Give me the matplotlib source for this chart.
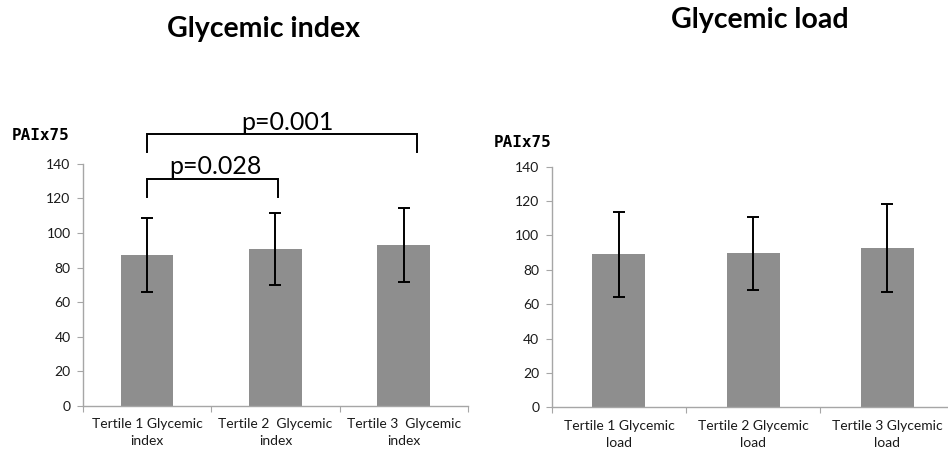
import matplotlib
matplotlib.use("Agg")
import matplotlib.pyplot as plt
import numpy as np

# ---- data ----
gi_labels = ["Tertile 1 Glycemic\nindex", "Tertile 2  Glycemic\nindex", "Tertile 3  Glycemic\nindex"]
gi_means = [87.5, 90.8, 93.0]
gi_upper = [108.6, 111.8, 114.5]
gi_lower = [66.1, 70.0, 71.7]

gl_labels = ["Tertile 1 Glycemic\nload", "Tertile 2 Glycemic\nload", "Tertile 3 Glycemic\nload"]
gl_means = [89.2, 89.6, 92.7]
gl_upper = [113.6, 110.7, 118.1]
gl_lower = [64.3, 68.2, 66.9]

yticks = [0, 20, 40, 60, 80, 100, 120, 140]
ylabel = "PAIx75"

# significance brackets: (from, to, bracket level, leg bottom, label)
brackets = [
    (0, 1.02, 131.4, 121.0, "p=0.028"),
    (0, 2.10, 157.0, 147.0, "p=0.001"),
]

FONT = "Lato"
BAR_COLOR = "#8e8e8e"
AXIS_COLOR = "#a6a6a6"
TEXT_COLOR = "#1a1a1a"

fig = plt.figure(figsize=(9.48, 4.5), dpi=100)

def make_axes(rect, labels, means, upper, lower, width):
    ax = fig.add_axes(rect)
    x = np.arange(len(means))
    means = np.array(means)
    yerr = np.vstack([means - np.array(lower), np.array(upper) - means])
    ax.bar(x, means, width=width, color=BAR_COLOR, zorder=2)
    ax.errorbar(x, means, yerr=yerr, fmt="none", ecolor="black",
                elinewidth=1.4, capsize=4, capthick=1.4, zorder=3)
    ax.set_xlim(-0.5, len(means) - 0.5)
    ax.set_ylim(0, 140)
    ax.set_yticks(yticks)
    ax.set_yticklabels([str(t) for t in yticks], fontsize=10, family=FONT, color=TEXT_COLOR)
    for s in ["top", "right"]:
        ax.spines[s].set_visible(False)
    for s in ["left", "bottom"]:
        ax.spines[s].set_color(AXIS_COLOR)
        ax.spines[s].set_linewidth(1.0)
    ax.tick_params(axis="y", direction="out", length=4, color=AXIS_COLOR, pad=5)
    # category boundary ticks
    ax.set_xticks(np.arange(len(means) + 1) - 0.5)
    ax.set_xticklabels([])
    ax.tick_params(axis="x", direction="out", length=4, color=AXIS_COLOR)
    ax.set_xticks(x, minor=True)
    ax.set_xticklabels(labels, minor=True, fontsize=10, family=FONT, linespacing=1.5,
                       color=TEXT_COLOR)
    ax.tick_params(axis="x", which="minor", length=0, pad=9)
    return ax

ax1 = make_axes([0.0876, 0.0978, 0.406, 0.538], gi_labels, gi_means, gi_upper, gi_lower, 0.41)
ax2 = make_axes([0.582, 0.0949, 0.425, 0.535], gl_labels, gl_means, gl_upper, gl_lower, 0.395)

for (a, b, top, leg, txt) in brackets:
    ax1.plot([a, a, b, b], [leg, top, top, leg], color="black", lw=1.4,
             clip_on=False, solid_joinstyle="miter")
    ax1.text((a + b) / 2 + 0.02 * (b - a), top + 0.5, txt, ha="center", va="bottom",
             fontsize=18, family=FONT, clip_on=False)

fig.text(0.0127, 0.689, ylabel, fontsize=11.5, family="DejaVu Sans Mono",
         fontweight="bold", va="baseline")
fig.text(0.521, 0.674, ylabel, fontsize=11.5, family="DejaVu Sans Mono",
         fontweight="bold", va="baseline")

fig.text(0.278, 0.918, "Glycemic index", fontsize=20.5, family=FONT,
         fontweight="bold", ha="center", va="baseline")
fig.text(0.802, 0.938, "Glycemic load", fontsize=20.5, family=FONT,
         fontweight="bold", ha="center", va="baseline")

fig.savefig("out.png", dpi=100)
